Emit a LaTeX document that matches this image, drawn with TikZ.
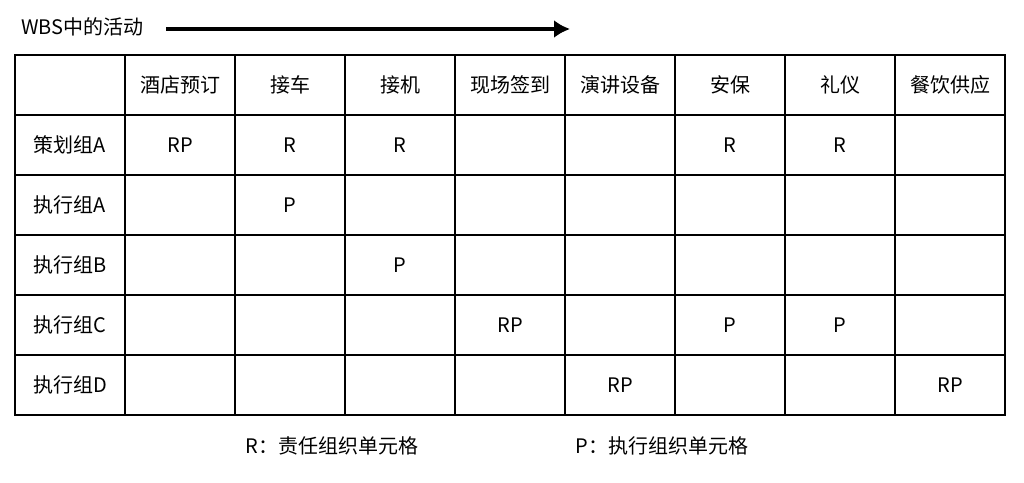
\documentclass[tikz,border=0pt]{standalone}
\usepackage{fontspec}
\usetikzlibrary{arrows.meta}
\setmainfont{Noto Sans CJK SC}
\begin{document}
\begin{tikzpicture}[x=1pt,y=-1pt,font=\fontsize{20}{24}\selectfont,
  cell/.style={inner sep=0pt,anchor=center},
  grid/.style={line width=2pt}]
\useasboundingbox (0,0) rectangle (1024,482);
\node[cell,anchor=west] (title) at (21,27) {WBS中的活动};
\coordinate (as) at (166,29);
\coordinate (ae) at (570,29);
\draw[line width=4pt,-{Latex[length=16pt,width=18pt]}] (as) -- (ae);
\foreach \i in {0,...,9}{\draw[grid] (15+110*\i,55) -- (15+110*\i,415);}
\foreach \j in {0,...,6}{\draw[grid] (14,55+60*\j) -- (1006,55+60*\j);}
\foreach \t [count=\i] in {酒店预订,接车,接机,现场签到,演讲设备,安保,礼仪,餐饮供应}
  {\node[cell] (h\i) at (15+110*\i+55,85) {\t};}
\foreach \t [count=\j] in {策划组A,执行组A,执行组B,执行组C,执行组D}
  {\node[cell] (r\j) at (70,85+60*\j) {\t};}
\foreach \c/\r/\t in {1/1/RP,2/1/R,3/1/R,6/1/R,7/1/R,2/2/P,3/3/P,4/4/RP,6/4/P,7/4/P,5/5/RP,8/5/RP}
  {\node[cell] (c\c\r) at (15+110*\c+55,85+60*\r) {\t};}
\node[cell] (lr) at (332,446) {R：责任组织单元格};
\node[cell] (lp) at (662,446) {P：执行组织单元格};
\end{tikzpicture}
\end{document}
